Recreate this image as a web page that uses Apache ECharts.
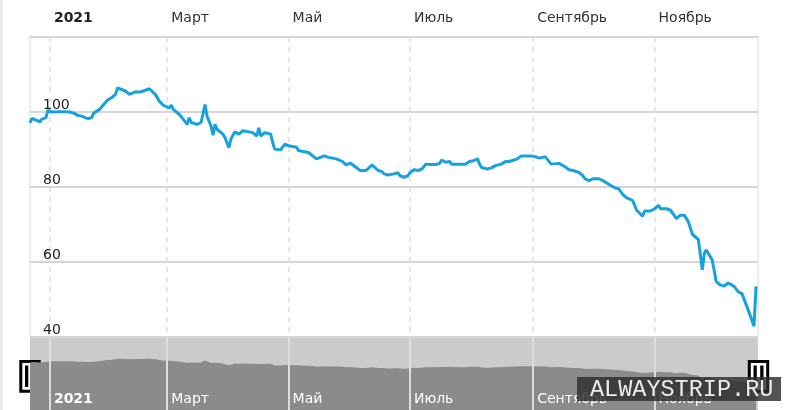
<!DOCTYPE html>
<html><head><meta charset="utf-8">
<script src="https://cdn.jsdelivr.net/npm/echarts@6/dist/echarts.min.js"></script>
<style>html,body{margin:0;padding:0;background:#fff}#c{width:790px;height:410px}</style>
</head><body><div id="c"></div><script>
const dates = ['2020-12-22','2020-12-23','2020-12-24','2020-12-27','2020-12-28','2020-12-30','2020-12-31',
'2021-01-02','2021-01-06','2021-01-11','2021-01-13','2021-01-15','2021-01-17','2021-01-20','2021-01-22','2021-01-23','2021-01-26','2021-01-28','2021-01-30',
'2021-02-01','2021-02-02','2021-02-03','2021-02-04','2021-02-05','2021-02-08','2021-02-10','2021-02-11','2021-02-13','2021-02-15','2021-02-16','2021-02-17','2021-02-20','2021-02-21','2021-02-23','2021-02-25','2021-02-27',
'2021-03-02','2021-03-03','2021-03-04','2021-03-07','2021-03-09','2021-03-11','2021-03-12','2021-03-13','2021-03-16','2021-03-18','2021-03-19','2021-03-20','2021-03-21','2021-03-23','2021-03-24','2021-03-25','2021-03-26','2021-03-27','2021-03-29','2021-03-30',
'2021-04-01','2021-04-02','2021-04-04','2021-04-06','2021-04-08','2021-04-09','2021-04-13','2021-04-14','2021-04-15','2021-04-16','2021-04-17','2021-04-19','2021-04-20','2021-04-22','2021-04-23','2021-04-24','2021-04-27','2021-04-29',
'2021-05-01','2021-05-05','2021-05-06','2021-05-09','2021-05-11','2021-05-15','2021-05-17','2021-05-19','2021-05-21','2021-05-25','2021-05-28','2021-05-30',
'2021-06-01','2021-06-04','2021-06-06','2021-06-09','2021-06-10','2021-06-12','2021-06-15','2021-06-17','2021-06-18','2021-06-20','2021-06-23','2021-06-25','2021-06-26','2021-06-28','2021-06-30',
'2021-07-01','2021-07-03','2021-07-05','2021-07-07','2021-07-09','2021-07-11','2021-07-12','2021-07-14','2021-07-16','2021-07-17','2021-07-19','2021-07-21','2021-07-22','2021-07-26','2021-07-29','2021-07-31',
'2021-08-02','2021-08-04','2021-08-05','2021-08-06','2021-08-09','2021-08-11','2021-08-13','2021-08-16','2021-08-18','2021-08-20','2021-08-21','2021-08-24','2021-08-26','2021-08-29','2021-08-31',
'2021-09-02','2021-09-04','2021-09-05','2021-09-07','2021-09-08','2021-09-10','2021-09-11','2021-09-14','2021-09-15','2021-09-17','2021-09-19','2021-09-21','2021-09-22','2021-09-24','2021-09-26','2021-09-27','2021-09-29',
'2021-10-01','2021-10-02','2021-10-04','2021-10-06','2021-10-07','2021-10-10','2021-10-12','2021-10-14','2021-10-16','2021-10-18','2021-10-21','2021-10-22','2021-10-23','2021-10-26','2021-10-27','2021-10-30',
'2021-11-01','2021-11-03','2021-11-04','2021-11-07','2021-11-09','2021-11-12','2021-11-14','2021-11-16','2021-11-18','2021-11-20','2021-11-23','2021-11-25','2021-11-26','2021-11-27','2021-11-30',
'2021-12-02','2021-12-04','2021-12-06','2021-12-08','2021-12-11','2021-12-13','2021-12-15','2021-12-16','2021-12-18','2021-12-21','2021-12-22'];
const prices = [97.1,98.3,98.5,97.4,98.1,98.5,100.4,
100.0,100.1,100.0,99.7,99.1,98.9,98.2,98.5,99.7,100.7,102.0,103.2,
103.8,104.0,104.7,106.4,106.2,105.6,104.7,105.1,105.4,105.3,105.8,105.6,106.2,106.0,104.7,102.9,101.8,
101.1,101.8,100.7,99.4,98.1,96.7,98.5,97.2,96.7,97.2,97.6,102.0,98.9,96.3,93.8,96.7,95.4,95.8,94.1,93.2,
90.5,92.8,94.7,94.1,95.0,94.5,94.5,94.3,93.6,95.8,93.6,94.5,94.7,94.1,91.9,90.1,89.9,91.4,
91.0,90.6,89.7,89.4,89.2,87.5,87.9,88.3,87.9,87.5,86.8,85.9,
86.4,85.2,84.4,84.4,84.1,85.9,84.4,84.1,83.5,83.2,83.5,83.8,83.0,82.6,83.0,
83.8,84.6,84.4,84.8,86.1,86.0,86.3,86.0,86.3,87.2,86.6,86.8,86.1,86.1,86.1,86.8,
87.0,87.5,86.1,85.2,84.8,85.1,85.7,86.1,86.8,86.8,87.2,87.5,88.3,88.3,88.3,
88.1,87.7,87.9,88.1,87.9,86.1,86.3,86.3,86.0,85.4,84.6,84.4,84.6,83.9,83.0,82.2,81.7,
82.2,81.9,82.2,81.7,81.3,80.4,79.8,79.5,78.0,77.1,76.4,76.6,73.8,72.2,73.6,73.6,
74.2,75.1,74.2,74.2,73.8,71.6,72.5,72.5,70.7,67.4,66.0,57.9,62.3,63.2,60.5,
54.8,53.9,53.6,54.4,53.5,52.1,51.5,51.3,47.3,42.9,53.5];
const monthTicks = ['2021-01-01','2021-03-01','2021-05-01','2021-07-01','2021-09-01','2021-11-01'];
const monthLabels = ['2021','Март','Май','Июль','Сентябрь','Ноябрь'];
const yLabels = [40, 60, 80, 100];
const xRange = ['2020-12-22','2021-12-23'];
const watermark = 'ALWAYSTRIP.RU';

function ts(s){const p=s.split('-').map(Number);return new Date(p[0],p[1]-1,p[2]).getTime();}
const tickTs = monthTicks.map(ts);
function fmt(v){const i=tickTs.indexOf(v);if(i<0)return '';return i===0?'{b|'+monthLabels[i]+'}':monthLabels[i];}
const seriesData = dates.map((d,i)=>[ts(d),prices[i]]);
const FONT='DejaVu Sans';

const chart = echarts.init(document.getElementById('c'));
chart.setOption({
  animation:false,
  backgroundColor:'#fff',
  grid:[
    {left:30,right:32,top:37,height:300,show:true,borderColor:'#d9d9d9',borderWidth:1,backgroundColor:'transparent'},
    {left:30,right:32,top:337,bottom:0,show:true,borderWidth:0,backgroundColor:'#cbcbcb'}
  ],
  xAxis:[
    {type:'value',gridIndex:0,position:'top',min:ts(xRange[0]),max:ts(xRange[1]),
     axisLine:{show:true,lineStyle:{color:'#d6d6d6',width:2}},axisTick:{show:false,customValues:tickTs},
     axisLabel:{customValues:tickTs,formatter:fmt,align:'left',padding:[0,0,0,4],margin:12,color:'#333',fontFamily:FONT,fontSize:14,
       rich:{b:{fontWeight:'bold',color:'#222',fontFamily:FONT,fontSize:14}}},
     splitLine:{show:true,lineStyle:{type:[5,5],color:'#dedede',width:1.5}}},
    {type:'value',gridIndex:1,position:'bottom',min:ts(xRange[0]),max:ts(xRange[1]),z:5,
     axisLine:{show:false},axisTick:{show:false,customValues:tickTs},
     axisLabel:{customValues:tickTs,formatter:fmt,inside:true,align:'left',padding:[0,0,0,4],margin:4,color:'#fff',fontFamily:FONT,fontSize:14,
       rich:{b:{fontWeight:'bold',color:'#fff',fontFamily:FONT,fontSize:14}}},
     splitLine:{show:true,lineStyle:{color:'#dcdcdc',width:2}}}
  ],
  yAxis:[
    {type:'value',gridIndex:0,min:40,max:120,interval:20,axisLine:{show:false},axisTick:{show:false},
     axisLabel:{inside:true,margin:13,verticalAlign:'bottom',color:'#222',fontFamily:FONT,fontSize:14,
       formatter:v=>yLabels.indexOf(v)>=0?String(v):''},
     splitLine:{show:true,lineStyle:{color:'#d6d6d6',width:2}}},
    {type:'value',gridIndex:1,min:-16,max:158,show:false,splitLine:{show:false}}
  ],
  series:[
    {type:'line',xAxisIndex:1,yAxisIndex:1,data:seriesData,symbol:'none',lineStyle:{width:0},
     areaStyle:{color:'#8b8b8b',opacity:1,origin:'start'},z:1,silent:true},
    {type:'line',xAxisIndex:0,yAxisIndex:0,data:seriesData,symbol:'none',
     lineStyle:{color:'#17a2de',width:3},z:3}
  ],
  graphic:[
    {type:'line',shape:{x1:1.5,y1:0,x2:1.5,y2:410},style:{stroke:'#e2e2e2',lineWidth:2},z:10},
    {type:'group',z:20,children:[
      {type:'rect',shape:{x:20.8,y:361.5,width:18.4,height:29.7},style:{fill:'#fff',stroke:'#000',lineWidth:3}},
      {type:'rect',shape:{x:25,y:365.5,width:3.3,height:21.5},style:{fill:'#000'}},
      {type:'rect',shape:{x:31.7,y:365.5,width:3.3,height:21.5},style:{fill:'#000'}},
      {type:'rect',shape:{x:749.3,y:361.5,width:18.4,height:29.7},style:{fill:'#fff',stroke:'#000',lineWidth:3}},
      {type:'rect',shape:{x:753.5,y:365.5,width:3.3,height:21.5},style:{fill:'#000'}},
      {type:'rect',shape:{x:760.2,y:365.5,width:3.3,height:21.5},style:{fill:'#000'}}
    ]},
    {type:'rect',z:30,shape:{x:577,y:377,width:204,height:24},style:{fill:'rgba(45,45,45,0.82)'}},
    {type:'text',z:31,x:590,y:389.5,style:{text:watermark,fill:'#ececec',fontSize:23.5,fontFamily:'Liberation Mono',verticalAlign:'middle',align:'left'}}
  ]
});
</script></body></html>
